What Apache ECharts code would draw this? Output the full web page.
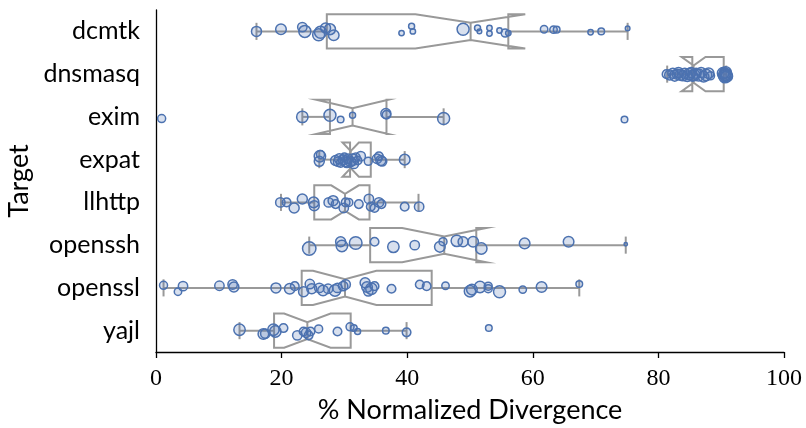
<!DOCTYPE html>
<html lang="en">
<head>
    <meta charset="UTF-8" />
    <title>Normalized divergence per target</title>
    <script src="https://cdn.jsdelivr.net/npm/echarts@6.0.0/dist/echarts.min.js"></script>
    <style>
        html, body { margin: 0; padding: 0; background: #fff; }
        #main { width: 806px; height: 428px; }
    </style>
</head>
<body>
    <div id="main"></div>

    <script type="text/javascript">
        // targets, top to bottom
        const targets = ["dcmtk", "dnsmasq", "exim", "expat", "llhttp", "openssh", "openssl", "yajl"];
        const xTicks = [0, 20, 40, 60, 80, 100];

        // notched box stats per target: [whisker low, q1, notch low, median, notch high, q3, whisker high]
        const boxStats = [
            [16.0, 27.2, 41.3, 50.1, 58.8, 56.1, 75.1],
            [81.4, 85.4, 83.7, 85.6, 87.5, 90.4, 90.8],
            [23.3, 27.7, 25.5, 31.3, 37.0, 36.7, 45.8],
            [26.0, 30.9, 29.7, 31.0, 32.3, 34.2, 39.6],
            [19.9, 25.2, 27.9, 30.1, 32.3, 34.0, 41.8],
            [24.4, 34.1, 39.2, 45.9, 52.6, 51.0, 74.8],
            [1.2, 23.2, 25.0, 30.1, 35.1, 43.9, 67.4],
            [13.3, 18.8, 20.4, 24.1, 27.8, 31.0, 39.9]
        ];

        // individual runs per target: [divergence %, jitter (in rows), marker weight]
        const dcmtk = [[16.0, 0, 5], [19.9, -0.05, 5.3], [23.3, -0.10, 4.7], [23.7, 0, 6], [25.9, 0.08, 6], [26.2, 0.02, 6],
            [27.0, -0.08, 5], [27.7, -0.05, 5.5], [28.3, 0.09, 5.3], [39.1, 0.04, 2.7], [40.7, -0.12, 3], [40.9, 0, 2.7],
            [48.9, -0.05, 6], [51.2, -0.08, 3], [51.5, 0, 2.3], [53.1, -0.08, 2.7], [53.1, 0.05, 2.7], [54.7, -0.02, 2.7],
            [55.6, 0.04, 4], [56.1, 0.04, 2.7], [61.8, -0.05, 3.7], [63.3, -0.04, 3.7], [63.8, -0.04, 3.3], [69.2, 0.02, 2.7],
            [70.9, 0, 3.3], [75.1, -0.07, 2.3]];
        const dnsmasq = [[81.3, 0, 4.3], [81.8, 0.02, 5], [82.3, -0.02, 5], [82.6, 0.04, 5.3], [83.0, 0, 5], [83.2, -0.04, 5],
            [83.5, 0.02, 5.3], [83.9, 0.04, 5], [84.2, -0.02, 5], [84.6, 0.05, 5.3], [84.9, 0, 5.7], [85.2, -0.04, 5],
            [85.4, 0.04, 5.3], [85.7, 0.02, 5.7], [86.0, -0.02, 5], [86.4, 0.02, 6], [86.8, -0.04, 5], [87.2, 0.06, 5.3],
            [87.6, 0.02, 5.7], [88.0, -0.02, 5.3], [88.3, 0.04, 4], [90.3, -0.02, 5.7], [90.5, 0.04, 6], [90.6, 0, 6],
            [90.7, -0.04, 5.7], [90.8, 0.02, 6], [90.9, 0.05, 5.7], [90.6, 0.07, 5.7]];
        const exim = [[0.9, 0.04, 4], [23.3, 0, 5.7], [27.7, -0.04, 6], [29.4, 0.06, 3.3], [31.3, -0.04, 3], [36.6, -0.08, 5],
            [36.7, -0.05, 4.3], [45.8, 0.04, 6], [74.6, 0.06, 3.3]];
        const expat = [[26.1, -0.08, 5.7], [26.0, 0.04, 5], [26.2, -0.12, 4], [28.6, 0.02, 5], [29.0, 0.05, 4.7], [29.2, -0.02, 5],
            [29.4, 0.08, 4.3], [29.8, 0, 5], [30.0, -0.06, 4], [30.2, 0.04, 5.3], [30.4, 0.07, 5], [30.6, -0.02, 4.7],
            [31.0, 0.05, 5], [31.3, 0, 5.7], [31.5, 0.10, 4.7], [31.8, -0.05, 4.5], [32.1, 0.02, 4.3], [32.6, -0.08, 4.7],
            [33.8, 0.04, 4], [35.2, -0.02, 4.7], [35.5, -0.08, 4.3], [35.8, 0.02, 5], [36.0, 0.04, 4.7], [39.6, 0, 5.3]];
        const llhttp = [[19.8, 0, 4.7], [20.8, 0, 4.3], [22.0, 0.13, 5], [23.3, -0.08, 5], [25.1, 0, 5.3], [25.2, 0.08, 5],
            [27.5, 0, 4.7], [28.2, -0.04, 5], [28.6, 0.04, 4.3], [29.9, 0.13, 4.7], [30.2, 0, 4.3], [30.7, 0, 4],
            [32.3, 0.04, 4.3], [33.9, -0.08, 4.7], [34.2, 0.10, 4.3], [34.8, 0.13, 4.3], [35.5, 0, 4.7], [35.9, 0.04, 4.3],
            [39.6, 0.10, 4.3], [41.9, 0.10, 4.7]];
        const openssh = [[24.4, 0.08, 6.7], [29.4, -0.08, 5], [29.6, 0.02, 5.7], [31.8, -0.05, 6.3], [34.8, -0.08, 4.3],
            [37.8, 0.04, 5.7], [41.2, 0, 4.7], [45.2, 0.04, 5.3], [45.7, -0.08, 4], [47.9, -0.10, 5.7], [48.9, -0.08, 5],
            [50.5, -0.08, 5.3], [51.8, 0.08, 5.7], [58.7, -0.04, 5.3], [65.7, -0.08, 5.3], [74.8, -0.02, 1.7]];
        const openssl = [[1.2, -0.06, 4], [3.5, 0.09, 3.7], [4.3, -0.04, 4.7], [10.1, -0.05, 4.7], [12.2, -0.08, 4.7],
            [12.4, -0.02, 5], [19.1, 0, 5], [21.3, 0.02, 5.3], [22.1, -0.04, 4.3], [23.5, 0.09, 5], [24.5, -0.09, 4.7],
            [24.8, 0.02, 5], [26.0, 0, 4.7], [26.6, 0.06, 5.3], [27.4, 0.02, 4.7], [28.5, 0.06, 5.7], [28.9, 0, 4.7],
            [29.8, -0.04, 4.7], [30.2, -0.08, 4.7], [33.3, -0.12, 5], [33.6, -0.02, 5.3], [33.8, 0.08, 4.7], [34.3, 0.02, 5.7],
            [34.8, -0.04, 4.3], [37.5, 0.02, 4.3], [42.0, -0.08, 4.3], [43.1, -0.04, 4.3], [46.1, -0.05, 3.7], [50.0, 0.08, 5.7],
            [50.3, 0.04, 5.3], [51.6, -0.02, 5.7], [52.9, -0.04, 4], [52.9, 0.02, 4], [54.7, 0.09, 6], [58.4, 0.04, 3.7],
            [61.4, -0.02, 5.3], [67.4, -0.09, 3.3]];
        const yajl = [[13.3, -0.02, 5.7], [17.1, 0.08, 5.3], [17.4, 0.07, 4.7], [18.7, -0.02, 5.7], [19.0, 0.02, 5.7],
            [20.3, -0.06, 4.3], [22.5, 0.11, 4.7], [23.5, 0.02, 4.3], [23.9, 0.05, 4.7], [24.3, 0.11, 4.3], [24.6, 0.02, 4.3],
            [25.9, -0.04, 4], [28.9, 0.02, 4.3], [30.9, -0.09, 4], [31.5, -0.06, 3.3], [32.1, 0.02, 3], [36.6, 0, 3.3],
            [39.9, 0.04, 4.3], [53.0, -0.06, 3.3]];

        const runs = [dcmtk, dnsmasq, exim, expat, llhttp, openssh, openssl, yajl];

        const boxGray = "#999999";
        const pointBlue = "#4c72b0";

        // rows: [row index, ...stats]
        let boxData = boxStats.map((s, i) => [i].concat(s));
        // points: [value, row + jitter, weight]
        let pointData = [];
        runs.forEach((list, i) => {
            list.forEach(p => pointData.push([p[0], i + p[1], p[2]]));
        });

        // matplotlib-style notched box
        function renderBox(params, api) {
            const row = api.value(0);
            const s = [1, 2, 3, 4, 5, 6, 7].map(k => api.value(k));
            const [wlo, q1, clo, med, chi, q3, whi] = s;
            const y = api.coord([med, row])[1];
            const x = v => api.coord([v, row])[0];
            const unit = api.size([0, 1])[1];
            const hw = unit * 0.4, nw = unit * 0.2;
            const line = { stroke: boxGray, lineWidth: 2, fill: null };

            return {
                type: "group",
                children: [
                    { type: "line", shape: { x1: x(wlo), y1: y, x2: x(q1), y2: y }, style: line },
                    { type: "line", shape: { x1: x(q3), y1: y, x2: x(whi), y2: y }, style: line },
                    { type: "line", shape: { x1: x(wlo), y1: y - nw, x2: x(wlo), y2: y + nw }, style: line },
                    { type: "line", shape: { x1: x(whi), y1: y - nw, x2: x(whi), y2: y + nw }, style: line },
                    {
                        type: "polygon",
                        shape: {
                            points: [
                                [x(q1), y - hw], [x(q1), y + hw], [x(clo), y + hw], [x(med), y + nw],
                                [x(chi), y + hw], [x(q3), y + hw], [x(q3), y - hw], [x(chi), y - hw],
                                [x(med), y - nw], [x(clo), y - hw]
                            ]
                        },
                        style: { fill: "#ffffff", stroke: boxGray, lineWidth: 2, lineJoin: "miter" }
                    },
                    { type: "line", shape: { x1: x(med), y1: y - nw, x2: x(med), y2: y + nw }, style: line }
                ]
            };
        }

        let options = {
            animation: false,
            grid: { left: 156, right: 22, top: 10, bottom: 76, outerBoundsMode: "none", containLabel: false },
            xAxis: {
                type: "value",
                min: 0,
                max: 100,
                interval: 20,
                name: "% Normalized Divergence",
                nameLocation: "middle",
                nameGap: 45,
                nameTextStyle: { fontFamily: "Lato", fontSize: 27, color: "#000" },
                axisLine: { onZero: false, lineStyle: { color: "#000", width: 1.3 } },
                axisTick: { length: 6, lineStyle: { color: "#000", width: 1.3 } },
                axisLabel: {
                    margin: 15,
                    fontFamily: "'Liberation Serif', 'DejaVu Serif', serif",
                    fontSize: 24,
                    color: "#000",
                    formatter: v => (xTicks.includes(v) ? String(v) : "")
                },
                splitLine: { show: false }
            },
            yAxis: [
                {
                    type: "category",
                    data: targets,
                    inverse: true,
                    name: "Target",
                    nameLocation: "middle",
                    nameGap: 114,
                    nameTextStyle: { fontFamily: "Lato", fontSize: 27, color: "#000" },
                    axisLine: { onZero: false, lineStyle: { color: "#000", width: 1.3 } },
                    axisTick: { alignWithLabel: true, length: 6, lineStyle: { color: "#000", width: 1.3 } },
                    axisLabel: { margin: 16, fontFamily: "Lato", fontSize: 25, color: "#000" },
                    splitLine: { show: false }
                },
                {
                    type: "value",
                    min: -0.5,
                    max: 7.5,
                    inverse: true,
                    show: false,
                    splitLine: { show: false }
                }
            ],
            series: [
                {
                    type: "custom",
                    yAxisIndex: 1,
                    renderItem: renderBox,
                    data: boxData,
                    z: 2
                },
                {
                    type: "scatter",
                    yAxisIndex: 1,
                    data: pointData,
                    symbolSize: d => d[2] * 2,
                    itemStyle: {
                        color: "rgba(76,114,176,0.22)",
                        borderColor: pointBlue,
                        borderWidth: 1.5,
                        opacity: 1
                    },
                    z: 3
                }
            ]
        };

        let myChart = echarts.init(document.getElementById("main"), null, { renderer: "canvas" });
        myChart.setOption(options);
    </script>
</body>
</html>
